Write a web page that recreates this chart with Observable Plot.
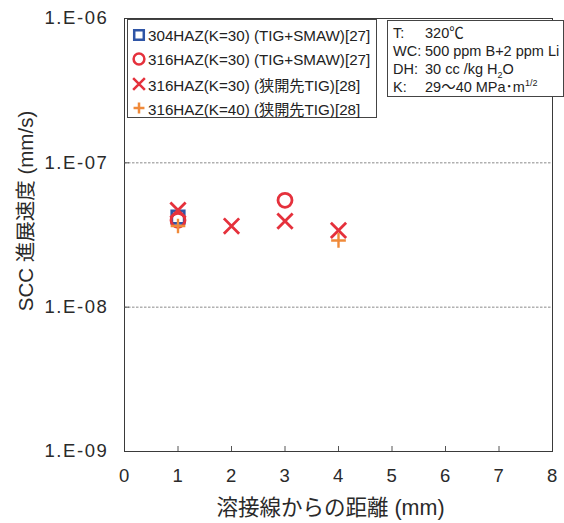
<!DOCTYPE html>
<html>
<head>
<meta charset="utf-8">
<script src="https://cdn.jsdelivr.net/npm/d3@7"></script>
<script src="https://cdn.jsdelivr.net/npm/@observablehq/plot@0.6"></script>
<style>
  body { margin: 0; background: #fff; }
  #chart {
    position: relative; width: 564px; height: 523px;
    font-family: "Liberation Sans", Arial, "Noto Sans CJK JP", sans-serif; color: #222;
  }
  #chart svg { display: block; }
  #chart svg g[aria-label="y-axis tick label"] text { letter-spacing: 1.6px; }
  #chart svg g[aria-label="x-axis tick label"] text { letter-spacing: 0.5px; }
  .box {
    position: absolute; background: #fff; border: 1px solid #444; box-sizing: border-box;
  }
  .legend { left: 127px; top: 19px; width: 250px; height: 99px; padding: 3px 0 0 4px; }
  .legend .row { display: flex; align-items: center; height: 24.3px; font-size: 15.2px; white-space: nowrap; }
  .legend .row svg { flex: 0 0 auto; overflow: visible; margin-right: 2px; }
  .info { left: 387px; top: 20px; width: 177px; height: 77px; padding: 3px 0 0 5px; font-size: 14.5px; }
  .info .row { display: flex; height: 18px; line-height: 18px; white-space: nowrap; }
  .info .k { width: 32px; }
  sub, sup { font-size: 9px; line-height: 0; }
</style>
</head>
<body>
<div id="chart"></div>
<script>
// Distance from the weld fusion line (mm) and SCC growth rate (mm/s)
const seriesNames = [
  "304HAZ(K=30) (TIG+SMAW)[27]",
  "316HAZ(K=30) (TIG+SMAW)[27]",
  "316HAZ(K=30) (狭開先TIG)[28]",
  "316HAZ(K=40) (狭開先TIG)[28]"
];
const seriesSymbols = ["square", "circle", "times", "plus"];
const seriesColors = ["#2f55a6", "#e5313c", "#e5313c", "#f08a3a"];
const seriesRadius = [7, 7, 7, 4.8];

const dist304K30 = [1];
const rate304K30 = [4.2e-8];
const dist316K30Smaw = [1, 3];
const rate316K30Smaw = [4.0e-8, 5.5e-8];
const dist316K30Narrow = [1, 2, 3, 4];
const rate316K30Narrow = [4.7e-8, 3.65e-8, 3.95e-8, 3.4e-8];
const dist316K40Narrow = [1, 4];
const rate316K40Narrow = [3.65e-8, 2.9e-8];

const xTicks = [0, 1, 2, 3, 4, 5, 6, 7, 8];
const yTicks = [1e-9, 1e-8, 1e-7, 1e-6];
const yTickLabels = ["1.E-09", "1.E-08", "1.E-07", "1.E-06"];
const yGrid = [1e-8, 1e-7];

const conditions = [
  ["T:", "320℃"],
  ["WC:", "500 ppm B+2 ppm Li"],
  ["DH:", "30 cc /kg H<sub>2</sub>O"],
  ["K:", "29～40 MPa･m<sup>1/2</sup>"]
];

const seriesData = [
  [dist304K30, rate304K30],
  [dist316K30Smaw, rate316K30Smaw],
  [dist316K30Narrow, rate316K30Narrow],
  [dist316K40Narrow, rate316K40Narrow]
].map(([xs, ys], s) => xs.map((x, i) => ({x, y: ys[i], s})));

const axisFont = {fontSize: 18.5, fill: "#2a2a2a"};
const titleFill = "#2a2a2a";

const plot = Plot.plot({
  width: 564,
  height: 523,
  marginLeft: 124,
  marginRight: 12,
  marginTop: 18,
  marginBottom: 72,
  style: {fontFamily: '"Liberation Sans", Arial, "Noto Sans CJK JP", sans-serif', background: "#fff"},
  x: {domain: [0, 8]},
  y: {type: "log", domain: [1e-9, 1e-6]},
  marks: [
    Plot.ruleY(yGrid, {stroke: "#8a8a8a", strokeDasharray: "2.5,1.5", strokeWidth: 1}),
    Plot.frame({stroke: "#3a3a3a", strokeWidth: 1}),
    Plot.axisX(xTicks, {tickSize: 0, tickPadding: 17, label: null, ...axisFont}),
    Plot.axisX(xTicks.slice(1, -1), {tickSize: -5, stroke: "#555", tickFormat: () => "", label: null}),
    Plot.axisY(yTicks, {tickSize: 0, tickPadding: 16, label: null,
      tickFormat: d => yTickLabels[yTicks.indexOf(d)], ...axisFont}),
    Plot.axisY(yGrid, {tickSize: -5, stroke: "#555", tickFormat: () => "", label: null}),
    Plot.text(["溶接線からの距離 (mm)"], {frameAnchor: "bottom", textAnchor: "middle", dy: 57, dx: -8,
      lineAnchor: "middle", fontSize: 21.5, fill: titleFill}),
    Plot.text(["SCC 進展速度 (mm/s)"], {frameAnchor: "left", textAnchor: "middle", rotate: -90, dx: -98, dy: -24,
      lineAnchor: "middle", fontSize: 20.5, fill: titleFill}),
    ...seriesData.map((data, s) =>
      Plot.dot(data, {
        x: "x", y: "y",
        symbol: () => seriesSymbols[s],
        r: seriesRadius[s],
        stroke: seriesColors[s],
        fill: "none",
        strokeWidth: s === 3 ? 2.4 : 2.8
      })
    )
  ]
});

const chart = document.getElementById("chart");
chart.append(plot);

// Legend box (top-left inside the frame)
const symbolTypes = {square: d3.symbolSquare, circle: d3.symbolCircle, times: d3.symbolTimes, plus: d3.symbolPlus};
const legend = document.createElement("div");
legend.className = "box legend";
seriesNames.forEach((name, s) => {
  const row = document.createElement("div");
  row.className = "row";
  const sym = d3.create("svg").attr("width", 14).attr("height", 14);
  const r = s === 3 ? 3.6 : 5.4;
  sym.append("path")
    .attr("transform", "translate(7,7)")
    .attr("d", d3.symbol(symbolTypes[seriesSymbols[s]], Math.PI * r * r)())
    .attr("fill", "none")
    .attr("stroke", seriesColors[s])
    .attr("stroke-width", 2.5);
  row.append(sym.node());
  const label = document.createElement("span");
  label.textContent = name;
  row.append(label);
  legend.append(row);
});
chart.append(legend);

// Test conditions box (top-right)
const info = document.createElement("div");
info.className = "box info";
conditions.forEach(([k, v]) => {
  const row = document.createElement("div");
  row.className = "row";
  row.innerHTML = `<span class="k">${k}</span><span>${v}</span>`;
  info.append(row);
});
chart.append(info);
</script>
</body>
</html>
